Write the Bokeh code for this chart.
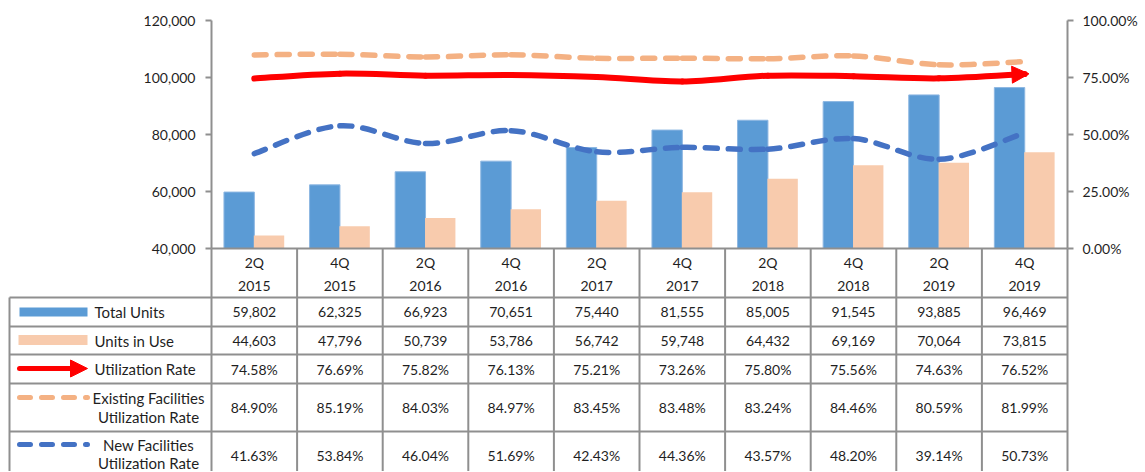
import numpy as np
from bokeh.plotting import figure
from bokeh.models import (Range1d, LinearAxis, FixedTicker, NumeralTickFormatter,
                          Arrow, NormalHead, ColumnDataSource)
from bokeh.transform import dodge
from bokeh.core.properties import value
from bokeh.embed import file_html
from bokeh.resources import INLINE

# ---------------- data ----------------
quarters = ["2Q", "4Q", "2Q", "4Q", "2Q", "4Q", "2Q", "4Q", "2Q", "4Q"]
years = ["2015", "2015", "2016", "2016", "2017", "2017", "2018", "2018", "2019", "2019"]
total_units = [59802, 62325, 66923, 70651, 75440, 81555, 85005, 91545, 93885, 96469]
units_in_use = [44603, 47796, 50739, 53786, 56742, 59748, 64432, 69169, 70064, 73815]
utilization_rate = [74.58, 76.69, 75.82, 76.13, 75.21, 73.26, 75.80, 75.56, 74.63, 76.52]
existing_rate = [84.90, 85.19, 84.03, 84.97, 83.45, 83.48, 83.24, 84.46, 80.59, 81.99]
new_rate = [41.63, 53.84, 46.04, 51.69, 42.43, 44.36, 43.57, 48.20, 39.14, 50.73]
unit_ticks = [40000, 60000, 80000, 100000, 120000]
pct_ticks = [0.0, 0.25, 0.50, 0.75, 1.0]
series_labels = ["Total Units", "Units in Use", "Utilization Rate",
                 "Existing Facilities", "New Facilities"]

# ---------------- layout constants (pixels) ----------------
W, H = 1144, 471
X0 = 211.0          # pixel of first category boundary
COL = 85.6          # pixel width of one category
Y_TOP = 20.0        # pixel of 120,000 / 100%
Y_BASE = 248.0      # pixel of 40,000 / 0%
FONT = value("Lato")
TXT = "#1f1f1f"
GRID = "#8f8f8f"
BLUE, PEACH, RED = "#5B9BD5", "#F8CBAD", "#FF0000"
DASH_PEACH, DASH_BLUE = "#F4B183", "#4472C4"

n = len(total_units)
centers = np.arange(n) + 0.5

k = (unit_ticks[-1] - unit_ticks[0]) / (Y_BASE - Y_TOP)
y_range = Range1d(unit_ticks[0] - (H - Y_BASE) * k, unit_ticks[-1] + Y_TOP * k)
k2 = 1.0 / (Y_BASE - Y_TOP)
pct_range = Range1d(0 - (H - Y_BASE) * k2, 1 + Y_TOP * k2)

p = figure(width=W, height=H, output_backend="svg", toolbar_location=None,
           x_range=Range1d(-X0 / COL, (W - X0) / COL), y_range=y_range,
           x_axis_location=None, y_axis_location=None, min_border=0,
           outline_line_color=None, background_fill_color="white",
           border_fill_color="white")
p.xgrid.grid_line_color = None
p.ygrid.grid_line_color = None
p.extra_y_ranges = {"pct": pct_range, "tbl": Range1d(H, 0)}
p.extra_x_ranges = {"px": Range1d(0, W)}


def style_axis(ax, standoff):
    ax.axis_line_color = GRID
    ax.axis_line_width = 2
    ax.major_tick_line_color = GRID
    ax.major_tick_line_width = 2
    ax.major_tick_out = 6
    ax.major_tick_in = 0
    ax.minor_tick_line_color = None
    ax.major_label_text_font = "Lato"
    ax.major_label_text_font_size = "14px"
    ax.major_label_text_color = TXT
    ax.major_label_standoff = standoff


ax_l = LinearAxis(fixed_location=0, bounds=(unit_ticks[0], unit_ticks[-1]),
                  ticker=FixedTicker(ticks=unit_ticks),
                  formatter=NumeralTickFormatter(format="0,0"))
style_axis(ax_l, 10)
p.add_layout(ax_l, "left")

ax_r = LinearAxis(y_range_name="pct", fixed_location=n, bounds=(0, 1),
                  ticker=FixedTicker(ticks=pct_ticks),
                  formatter=NumeralTickFormatter(format="0.00%"))
style_axis(ax_r, 9)
p.add_layout(ax_r, "right")

# ---------------- bars ----------------
src = ColumnDataSource(dict(x=centers, total=total_units, inuse=units_in_use))
p.vbar(x=dodge("x", -0.177), top="total", bottom=unit_ticks[0], width=0.355,
       source=src, fill_color=BLUE, line_color="#8DB7E2", line_width=1)
p.vbar(x=dodge("x", 0.172), top="inuse", bottom=unit_ticks[0], width=0.355,
       source=src, fill_color=PEACH, line_color=None)


# ---------------- smoothed lines ----------------
def smooth(xs, ys):
    xs = np.asarray(xs, float)
    ys = np.asarray(ys, float)
    m = len(xs)
    d = dict(x0=[], y0=[], x1=[], y1=[], cx0=[], cy0=[], cx1=[], cy1=[])
    for i in range(m - 1):
        a, b = max(i - 1, 0), min(i + 2, m - 1)
        d["x0"].append(xs[i]); d["y0"].append(ys[i])
        d["x1"].append(xs[i + 1]); d["y1"].append(ys[i + 1])
        d["cx0"].append(xs[i] + (xs[i + 1] - xs[a]) / 6)
        d["cy0"].append(ys[i] + (ys[i + 1] - ys[a]) / 6)
        d["cx1"].append(xs[i + 1] - (xs[b] - xs[i]) / 6)
        d["cy1"].append(ys[i + 1] - (ys[b] - ys[i]) / 6)
    return ColumnDataSource(d)


ur = [v / 100 for v in utilization_rate]
er = [v / 100 for v in existing_rate]
nr = [v / 100 for v in new_rate]

bz = dict(x0="x0", y0="y0", x1="x1", y1="y1", cx0="cx0", cy0="cy0", cx1="cx1", cy1="cy1")
p.bezier(source=smooth(centers, er), y_range_name="pct", line_color=DASH_PEACH,
         line_width=5.5, line_dash="12 11", line_cap="round", **bz)
p.bezier(source=smooth(centers, ur), y_range_name="pct", line_color=RED,
         line_width=6, line_cap="round", **bz)
p.bezier(source=smooth(centers, nr), y_range_name="pct", line_color=DASH_BLUE,
         line_width=5.5, line_dash="12 11", line_cap="round", **bz)

ext = 0.05
p.add_layout(Arrow(end=NormalHead(size=17, fill_color=RED, line_color=RED, line_width=1),
                   x_start=centers[n - 2], y_start=ur[n - 2],
                   x_end=centers[n - 1] + ext, y_end=ur[n - 1] + (ur[n - 1] - ur[n - 2]) * ext,
                   y_range_name="pct", line_color=None))

# ---------------- data table ----------------
LEFT = (9 - X0) / COL
row_lines = [297, 326, 354, 383, 431]
# vertical lines
p.segment(x0=list(range(n + 1)), y0=[Y_BASE] * (n + 1), x1=list(range(n + 1)), y1=[H] * (n + 1),
          y_range_name="tbl", line_color=GRID, line_width=2)
p.segment(x0=[LEFT], y0=[row_lines[0]], x1=[LEFT], y1=[H],
          y_range_name="tbl", line_color=GRID, line_width=2)
# horizontal lines
p.segment(x0=[0] + [LEFT] * len(row_lines), y0=[Y_BASE] + row_lines,
          x1=[n] * (len(row_lines) + 1), y1=[Y_BASE] + row_lines,
          y_range_name="tbl", line_color=GRID, line_width=2)

tkw = dict(y_range_name="tbl", text_font=FONT, text_font_size="14px",
           text_color=TXT, text_baseline="middle")
lkw = dict(tkw, text_font_size="15px")
# header
p.text(x=centers, y=[262] * n, text=quarters, text_align="center", **tkw)
p.text(x=centers, y=[285] * n, text=years, text_align="center", **tkw)
# values
row_y = [311.5, 340, 368.5, 407, 455]
rows = [[f"{v:,}" for v in total_units],
        [f"{v:,}" for v in units_in_use],
        [f"{v:.2f}%" for v in utilization_rate],
        [f"{v:.2f}%" for v in existing_rate],
        [f"{v:.2f}%" for v in new_rate]]
for yy, vals in zip(row_y, rows):
    p.text(x=centers, y=[yy] * n, text=vals, text_align="center", **tkw)

# row labels
p.text(x=[94, 94, 94], y=row_y[:3], text=series_labels[:3], x_range_name="px",
       text_align="left", **lkw)
p.text(x=[148, 148, 148, 148], y=[397, 416, 444, 462],
       text=[series_labels[3], series_labels[2], series_labels[4], series_labels[2]],
       x_range_name="px", text_align="center", **lkw)

# legend keys
p.quad(left=[19], right=[87], top=[307], bottom=[316], x_range_name="px",
       y_range_name="tbl", fill_color=BLUE, line_color=None)
p.quad(left=[18], right=[87], top=[334.5], bottom=[344.5], x_range_name="px",
       y_range_name="tbl", fill_color=PEACH, line_color=None)
p.line(x=[19, 72], y=[368, 368], x_range_name="px", y_range_name="tbl",
       line_color=RED, line_width=5, line_cap="round")
p.add_layout(Arrow(end=NormalHead(size=17, fill_color=RED, line_color=RED, line_width=1),
                   x_start=68, y_start=368, x_end=87, y_end=368,
                   x_range_name="px", y_range_name="tbl", line_color=None))
p.line(x=[19, 87], y=[397, 397], x_range_name="px", y_range_name="tbl",
       line_color=DASH_PEACH, line_width=5, line_dash="11 11", line_cap="round")
p.line(x=[19, 87], y=[444, 444], x_range_name="px", y_range_name="tbl",
       line_color=DASH_BLUE, line_width=5, line_dash="11 11", line_cap="round")

open("out.html", "w").write(file_html(p, INLINE))
